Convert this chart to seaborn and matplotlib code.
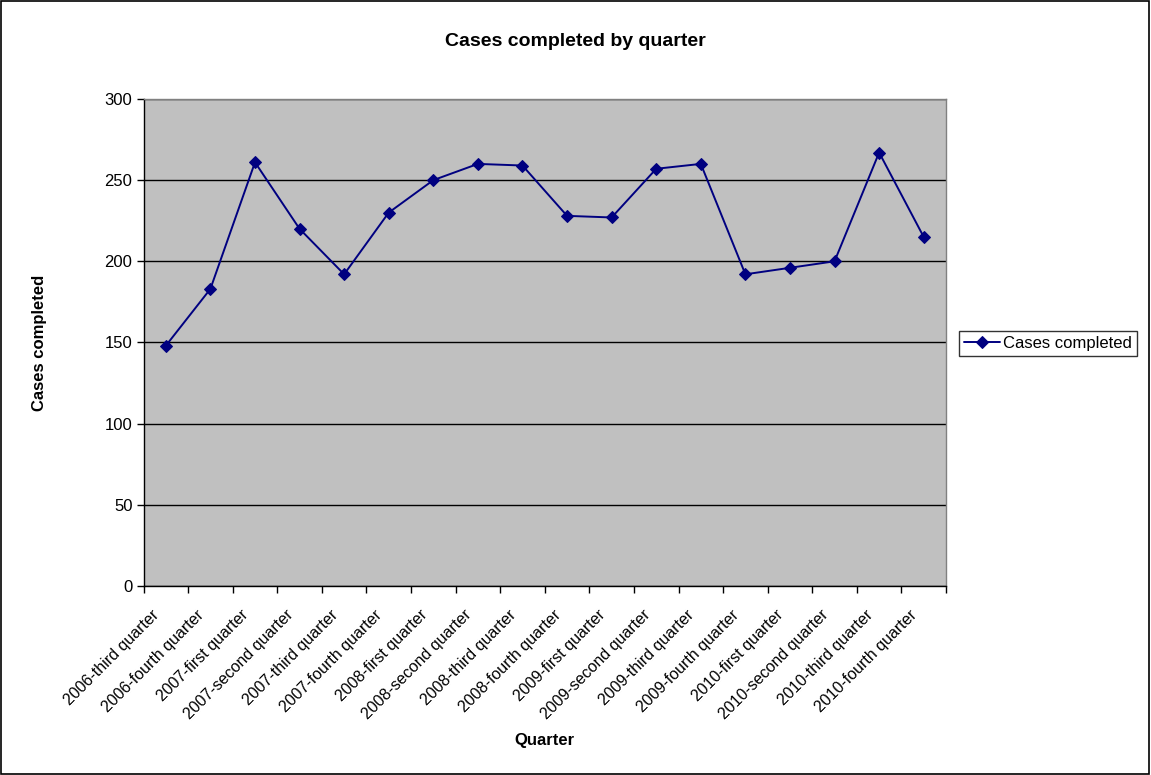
import matplotlib
matplotlib.use("Agg")
import matplotlib.pyplot as plt
from matplotlib.patches import Rectangle
from matplotlib.ticker import FixedLocator, NullFormatter
from matplotlib.transforms import ScaledTranslation
import seaborn as sns
import pandas as pd
import numpy as np

quarters = [
    "2006-third quarter", "2006-fourth quarter", "2007-first quarter",
    "2007-second quarter", "2007-third quarter", "2007-fourth quarter",
    "2008-first quarter", "2008-second quarter", "2008-third quarter",
    "2008-fourth quarter", "2009-first quarter", "2009-second quarter",
    "2009-third quarter", "2009-fourth quarter", "2010-first quarter",
    "2010-second quarter", "2010-third quarter", "2010-fourth quarter",
]
cases_completed = [148, 183, 261, 220, 192, 230, 250, 260, 259,
                   228, 227, 257, 260, 192, 196, 200, 267, 215]

sns.set_theme(style="white")
plt.rcParams["font.family"] = ["Liberation Sans", "DejaVu Sans"]
plt.rcParams.update({"text.color": "black", "axes.labelcolor": "black",
                     "xtick.color": "black", "ytick.color": "black"})

df = pd.DataFrame({"pos": np.arange(len(quarters)), "quarter": quarters,
                   "cases": cases_completed})

fig = plt.figure(figsize=(11.51, 7.75), dpi=100)
fig.patch.set_facecolor("white")
ax = fig.add_axes([0.1247, 0.2439, 0.8219 - 0.1247, 0.8723 - 0.2439])
ax.set_facecolor("#C0C0C0")

sns.lineplot(data=df, x="pos", y="cases", ax=ax, color="#000080",
             marker="D", markersize=6.5, markeredgecolor="#000080",
             linewidth=1.4, sort=False, label="Cases completed")

ax.set_xlim(-0.5, len(quarters) - 0.5)
ax.set_ylim(0, 300)
ax.set_yticks(range(0, 301, 50))
ax.yaxis.grid(True, color="black", linewidth=1.0)
ax.xaxis.grid(False)
ax.set_axisbelow(True)

# category labels at centres, tick marks at category boundaries
ax.set_xticks(df["pos"])
ax.set_xticklabels(quarters, rotation=45, ha="right", va="top",
                   rotation_mode="anchor", fontsize=11.5, color="black")
ax.tick_params(axis="x", which="major", length=0, pad=6)
shift = ScaledTranslation(-14 / 100, -13 / 100, fig.dpi_scale_trans)
for lbl in ax.get_xticklabels():
    lbl.set_transform(lbl.get_transform() + shift)
ax.xaxis.set_minor_locator(FixedLocator(np.arange(-0.5, len(quarters), 1.0)))
ax.xaxis.set_minor_formatter(NullFormatter())
ax.tick_params(axis="x", which="minor", length=5, width=1, color="black",
               direction="out", bottom=True)
ax.tick_params(axis="y", length=5, width=1, color="black", direction="out",
               left=True, labelsize=12, pad=3, labelcolor="black")

for side in ["left", "bottom"]:
    ax.spines[side].set_color("black")
    ax.spines[side].set_linewidth(1.0)
for side in ["top", "right"]:
    ax.spines[side].set_color("#808080")
    ax.spines[side].set_linewidth(1.0)

ax.set_xlabel("Quarter", fontsize=12, fontweight="bold", color="black")
ax.set_ylabel("Cases completed", fontsize=12, fontweight="bold", color="black")
ax.xaxis.set_label_coords(0.5, -0.302)
ax.yaxis.set_label_coords(-0.1300, 0.5)
ax.yaxis.label.set_va("center")
fig.text(0.5, 1 - 41 / 775, "Cases completed by quarter", ha="center",
         va="center", fontsize=14, fontweight="bold", color="black")

leg = ax.legend(loc="center left", bbox_to_anchor=(0.833, 0.557),
                bbox_transform=fig.transFigure, frameon=True, fancybox=False,
                fontsize=12, handlelength=2.2, handletextpad=0.15,
                borderpad=0.3, borderaxespad=0)
leg.get_frame().set_edgecolor("black")
leg.get_frame().set_linewidth(1.0)
for t in leg.get_texts():
    t.set_color("black")

fig.add_artist(Rectangle((0.0005, 0.0008), 0.998, 0.998,
                         transform=fig.transFigure, fill=False,
                         edgecolor="black", linewidth=1.2))

fig.savefig("out.png", dpi=100)
